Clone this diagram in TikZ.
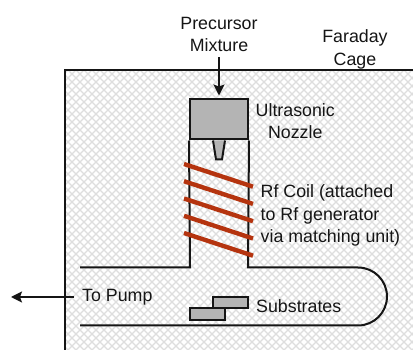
\documentclass[tikz,border=0pt]{standalone}
\usepackage{fontspec}
\setmainfont{Liberation Sans}
\usepackage{xcolor}
\usetikzlibrary{arrows.meta,positioning}
\definecolor{cink}{HTML}{151515}
\definecolor{cgrey}{HTML}{B4B4B4}
\definecolor{ccoil}{HTML}{B5340F}
\definecolor{chatch}{HTML}{DEDEDE}

\begin{document}
\begin{tikzpicture}[
  x=1pt, y=-1pt,
  font=\fontsize{17.8}{22.5}\selectfont,
  lab/.style={text=cink, align=center, inner sep=0pt},
  wall/.style={draw=cink, line width=2pt},
  solid box/.style={wall, fill=cgrey, rectangle, minimum width=35pt, minimum height=11.5pt, inner sep=0pt},
  arr/.style={-{Stealth[length=11pt,width=11pt,inset=2pt]}, line width=1.7pt, cink},
  coil/.style={draw=ccoil, line width=4.4pt},
]
\useasboundingbox (0,0) rectangle (413,350);
\fill[white] (0,0) rectangle (413,350);
% hatching inside the cage
\begin{scope}
  \clip (65,70) rectangle (413,350);
  \foreach \h in {-300,-292,...,420} {
    \draw[chatch, line width=1.1pt] (\h,70) -- (\h+280,350);
    \draw[chatch, line width=1.1pt] (\h+280,70) -- (\h,350);
  }
\end{scope}
% cage
\draw[wall] (413,70.5) -- (64.5,70.5) -- (64.5,350);
% nozzle
\node[wall, fill=cgrey, rectangle, minimum width=58pt, minimum height=40pt, inner sep=0pt] (nozzle) at (219,119.5) {};
\draw[wall, fill=cgrey] (nozzle.south)+(-6,0) -- ++(-3,19) -- ++(6,0) -- ++(3,-19);
% tube and chamber
\draw[wall] (nozzle.south west) -- (190,267.5) -- (80,267.5);
\draw[wall] (nozzle.south east) -- (248,267.5) -- (358,267.5) arc[start angle=-90, end angle=90, radius=29] -- (80,325.5);
% coil
\foreach \y in {164,181.2,198.5,215.8,233}
  \draw[coil] (184,\y) -- (253,\y+22.7);
% substrates
\node[solid box] (subtop) at (230.5,302.5) {};
\node[solid box] (subbot) at (207.5,314) {};
% labels
\node[lab] (precursor) at (219,34.5) {Precursor\\Mixture};
\node[lab] (cage) at (355,49.5) {Faraday\\Cage};
\node[lab, right=6.5pt of nozzle.east, yshift=-1.5pt] (nozzlelab) {Ultrasonic\\Nozzle};
\node[lab, align=left, anchor=west] (coillab) at (260.5,215.5) {Rf Coil (attached\\to Rf generator\\via matching unit)};
\node[lab, anchor=west] (pump) at (82,297) {To Pump};
\node[lab, anchor=west] (sublab) at (256,306) {Substrates};
\coordinate (out) at (11,297);
\draw[arr, shorten >=3pt] (precursor.south -| nozzle) ++(0,5) -- (nozzle.north);
\draw[arr] (pump.west |- out) ++(-8,0) -- (out);
\end{tikzpicture}
\end{document}
